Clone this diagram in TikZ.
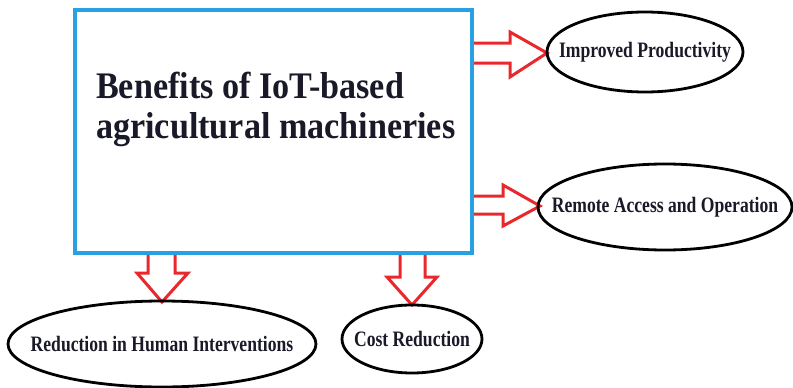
\documentclass[tikz,border=0pt]{standalone}
\usepackage{fontspec}
\setmainfont{Liberation Serif}
\newfontfamily\titlefont[FakeStretch=0.91]{Liberation Serif}
\newfontfamily\labelfont[FakeStretch=0.80]{Liberation Serif}
\usetikzlibrary{shapes.geometric}
\definecolor{boxblue}{RGB}{40,160,225}
\definecolor{arrowred}{RGB}{232,40,45}
\definecolor{ink}{RGB}{25,25,40}
\newcommand{\zw}[1]{\makebox[0pt]{#1}}
\tikzset{
  framebox/.style={draw=boxblue, line width=3.6pt, fill=white, inner sep=0pt, outer sep=0pt},
  blockarrow/.style={draw=arrowred, line width=3pt, fill=white, line join=miter},
  benefit/.style={ellipse, draw=black, line width=2.8pt, inner sep=0pt, outer sep=0pt,
    text=ink, font=\labelfont\bfseries\fontsize{22}{24}\selectfont},
  titletext/.style={anchor=base west, inner sep=0pt, text=ink,
    font=\titlefont\bfseries\fontsize{37.5}{40}\selectfont}
}
\begin{document}
\begin{tikzpicture}[x=1pt, y=-1pt]
\useasboundingbox (0,0) rectangle (793,388);
% hollow block arrows (drawn first so the frame covers their tails)
\draw[blockarrow] (466,43) -- (510,43) -- (510,32) -- (547,53) -- (510,77) -- (510,63) -- (466,63) -- cycle;
\draw[blockarrow] (466,196) -- (503,196) -- (503,185) -- (540,206) -- (503,226) -- (503,214) -- (466,214) -- cycle;
\draw[blockarrow] (148,247) -- (148,273) -- (137,273) -- (162,302) -- (188,273) -- (175,273) -- (175,247) -- cycle;
\draw[blockarrow] (400,247) -- (400,277) -- (387,277) -- (412,305) -- (437,277) -- (425,277) -- (425,247) -- cycle;
% main frame
\node[framebox, minimum width=397pt, minimum height=243pt] (box) at (273.5,131.5) {};
\node[titletext] (t1) at (96,98) {Benefits of IoT-based};
\node[titletext] (t2) at (96,138) {agricultural machineries};
% benefit ellipses (labels set in zero-width boxes so the sizes below govern)
\node[benefit, minimum width=196pt, minimum height=80pt] (prod) at (645,52) {\zw{Improved Productivity}};
\node[benefit, minimum width=254pt, minimum height=86pt] (remote) at (665,207) {\zw{Remote Access and Operation}};
\node[benefit, minimum width=308pt, minimum height=86pt] (human) at (162,344) {\zw{Reduction in Human Interventions}};
\node[benefit, minimum width=140pt, minimum height=68pt] (cost) at (412,339) {\zw{Cost Reduction}};
\end{tikzpicture}
\end{document}
